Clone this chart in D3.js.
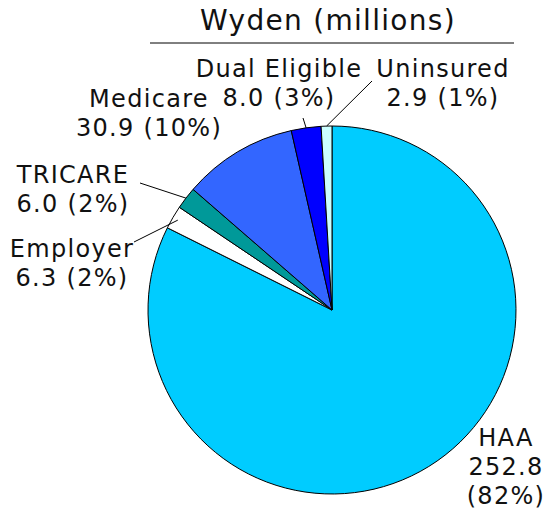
<!DOCTYPE html>
<html>
<head>
<meta charset="utf-8">
<script src="https://cdn.jsdelivr.net/npm/d3@7"></script>
<style>
  body { margin: 0; background: #fff; }
  text { font-family: "DejaVu Sans", Verdana, sans-serif; fill: #111; }
</style>
</head>
<body>
<script>
// données
var categories = ["HAA", "Employer", "TRICARE", "Medicare", "Dual Eligible", "Uninsured"];
var values = [252.8, 6.3, 6.0, 30.9, 8.0, 2.9];
var percents = ["82%", "2%", "2%", "10%", "3%", "1%"];
var couleurs = ["#00ccff", "#ffffff", "#009999", "#3366ff", "#0000ff", "#ccffff"];

var width = 546;
var height = 512;
var cx = 332, cy = 310, r = 184;

var svg = d3.select("body")
    .append("svg")
    .attr("width", width)
    .attr("height", height);

// titre
svg.append("text")
    .attr("x", 328)
    .attr("y", 30)
    .attr("text-anchor", "middle")
    .style("font-size", "28px")
    .style("letter-spacing", "1.3px")
    .text("Wyden (millions)");

svg.append("line")
    .attr("x1", 150).attr("x2", 514)
    .attr("y1", 43).attr("y2", 43)
    .attr("stroke", "#000")
    .attr("stroke-width", 1);

var pie = d3.pie().sort(null).value(function (d) { return d; });
var arcs = pie(values);
var arc = d3.arc().innerRadius(0).outerRadius(r);

var g = svg.append("g").attr("transform", "translate(" + cx + "," + cy + ")");

g.selectAll("path")
    .data(arcs)
    .enter()
    .append("path")
    .attr("d", arc)
    .attr("fill", function (d, i) { return couleurs[i]; })
    .attr("stroke", "#000")
    .attr("stroke-width", 1);

// position des étiquettes (lignes : nom, valeur)
var labelPos = [
    { x: 506, y: 446, lines: 3, lead: null },
    { x: 72, y: 257, lines: 2, lead: [134, 242], lr: 0.97 },
    { x: 73, y: 183, lines: 2, lead: [140, 183], lr: 1.0 },
    { x: 149, y: 107, lines: 2, lead: null },
    { x: 279, y: 77, lines: 2, lead: [303, 118], lr: 1.0 },
    { x: 443, y: 77, lines: 2, lead: [372, 81], lr: 1.0 }
];

arcs.forEach(function (d, i) {
    var p = labelPos[i];
    var txt = [];
    if (p.lines == 3) {
        txt = [categories[i], values[i].toFixed(1), "(" + percents[i] + ")"];
    } else {
        txt = [categories[i], values[i].toFixed(1) + " (" + percents[i] + ")"];
    }
    var t = svg.append("text")
        .attr("text-anchor", "middle")
        .style("font-size", "24px")
        .style("letter-spacing", "1.3px");
    txt.forEach(function (s, k) {
        t.append("tspan")
            .attr("x", p.x)
            .attr("y", p.y + k * 29)
            .text(s);
    });
    if (p.lead) {
        var a = (d.startAngle + d.endAngle) / 2;
        var rr = r * p.lr;
        svg.append("line")
            .attr("x1", p.lead[0]).attr("y1", p.lead[1])
            .attr("x2", cx + rr * Math.sin(a))
            .attr("y2", cy - rr * Math.cos(a))
            .attr("stroke", "#000")
            .attr("stroke-width", 1);
    }
});
</script>
</body>
</html>
